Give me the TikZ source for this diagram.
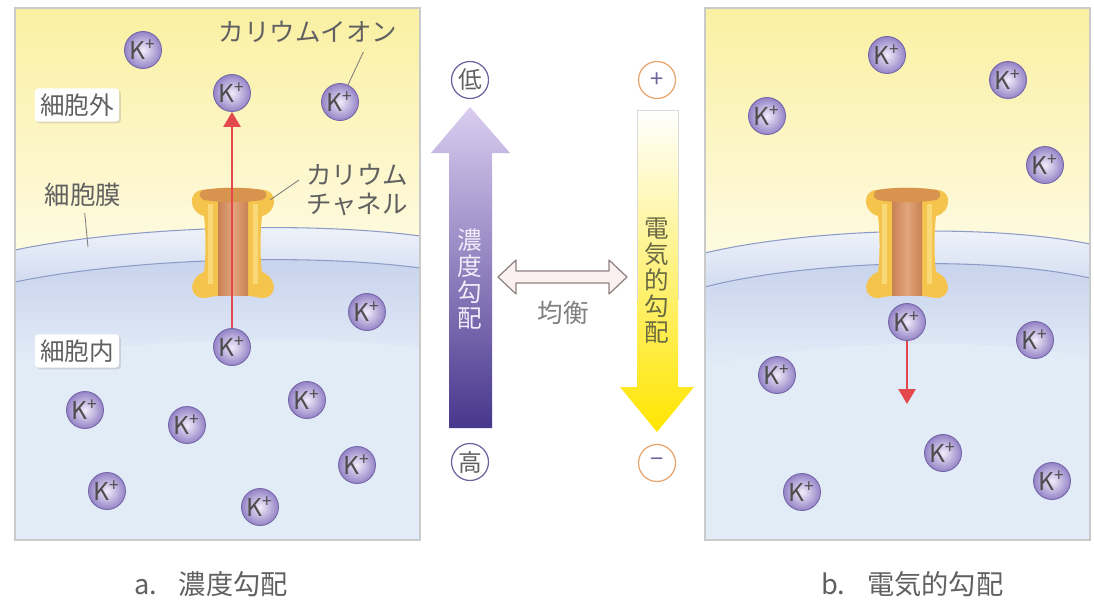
\documentclass[tikz,border=0pt]{standalone}
\usepackage{fontspec}
\setmainfont{Noto Sans CJK JP}
\usetikzlibrary{arrows.meta,shadows,calc}

\definecolor{txtgray}{HTML}{606060}
\definecolor{framegray}{HTML}{CACACA}
\definecolor{outtop}{HTML}{FAF0A2}
\definecolor{outlow}{HTML}{FEFBE6}
\definecolor{memtop}{HTML}{F2F5FB}
\definecolor{memlow}{HTML}{D2DCF1}
\definecolor{memline}{HTML}{8C9CC6}
\definecolor{inhigh}{HTML}{C6D1EC}
\definecolor{inlow}{HTML}{E2ECF7}
\definecolor{ionrim}{HTML}{7566A8}
\definecolor{ionlight}{HTML}{F1ECFA}
\definecolor{iondark}{HTML}{9483C6}
\definecolor{flowred}{HTML}{E2484C}
\definecolor{chanyellow}{HTML}{F4C44C}
\definecolor{chanlight}{HTML}{F9D977}
\definecolor{chancap}{HTML}{D8934F}
\definecolor{porebrown}{HTML}{C98253}
\definecolor{porelight}{HTML}{E3A57C}
\definecolor{concdraw}{HTML}{6E619C}
\definecolor{elecdraw}{HTML}{E8A46A}
\definecolor{conctop}{HTML}{DACDF0}
\definecolor{concmid}{HTML}{907DC7}
\definecolor{concbot}{HTML}{47378D}
\definecolor{elecyel}{HTML}{FFE500}
\definecolor{elecmid}{HTML}{FFF169}
\definecolor{balfill}{HTML}{FBF1F1}
\definecolor{baldraw}{HTML}{8E8080}

\tikzset{
  ion/.style = {circle, draw=ionrim, line width=0.5pt, inner color=ionlight,
    outer color=iondark, minimum size=0.74cm, inner sep=0pt,
    font=\fontsize{14}{14}\selectfont, text=txtgray!80!black},
  tag/.style = {circle, fill=white, line width=0.7pt, minimum size=0.74cm,
    inner sep=0pt, font=\fontsize{13.5}{13.5}\selectfont},
  place/.style = {fill=white, rounded corners=2pt, inner sep=3pt, text=txtgray,
    drop shadow={shadow xshift=1pt, shadow yshift=-1pt, opacity=0.25},
    font=\fontsize{14}{14}\selectfont},
  callout/.style = {text=txtgray, font=\fontsize{14.5}{17}\selectfont},
  leader/.style = {draw=txtgray!80, line width=0.5pt},
  kflow/.style = {draw=flowred, line width=1.5pt,
    -{Triangle[width=0.34cm,length=0.3cm]}},
  panel/.style = {draw=framegray, line width=0.6pt},
  vtext/.style = {align=center, inner sep=0pt, font=\fontsize{14}{14.8}\selectfont},
  kchannel/.pic = {
    % yellow body with rounded ears at both ends
    \fill[chanyellow] (-30,-54) .. controls (-10,-57) and (10,-57) .. (30,-54)
      .. controls (45,-54) and (45,-32) .. (29,-28)
      .. controls (27,-10) and (27,14) .. (29,28)
      .. controls (45,34) and (45,55) .. (28,54)
      .. controls (10,50) and (-10,50) .. (-28,54)
      .. controls (-45,55) and (-45,34) .. (-29,28)
      .. controls (-27,14) and (-27,-10) .. (-29,-28)
      .. controls (-45,-32) and (-45,-54) .. (-30,-54) -- cycle;
    \fill[chanlight] (-25,-40) rectangle (-20,40);
    \fill[chanlight] (20,-40) rectangle (25,40);
    % pore
    \shade[left color=porebrown, right color=porebrown, middle color=porelight]
      (-15,-50) rectangle (15,51);
    % top rim
    \fill[chancap] (-30,-54) .. controls (-10,-57) and (10,-57) .. (30,-54)
      .. controls (35,-51) and (34,-46) .. (29,-44)
      .. controls (10,-41) and (-10,-41) .. (-29,-44)
      .. controls (-34,-46) and (-35,-51) .. (-30,-54) -- cycle;
  }
}

\begin{document}
\begin{tikzpicture}[x=0.02cm, y=-0.02cm]
  \useasboundingbox (0,0) rectangle (1094,599);

  % left cell: outside, membrane, inside
  \begin{scope}
    \clip (15,8) rectangle (420,540);
    \shade[top color=outtop, bottom color=outlow] (15,8) rectangle (420,270);
    \fill[inlow] (15,282) .. controls (120,260) and (300,252) .. (420,268)
      -- (420,540) -- (15,540) -- cycle;
    \shade[top color=inhigh, bottom color=inlow]
      (15,282) .. controls (120,260) and (300,252) .. (420,268)
      -- (420,348) .. controls (300,332) and (120,340) .. (15,362) -- cycle;
    \shade[top color=memtop, bottom color=memlow]
      (15,250) .. controls (120,228) and (300,220) .. (420,236)
      -- (420,268) .. controls (300,252) and (120,260) .. (15,282) -- cycle;
    \draw[memline, line width=0.6pt]
      (15,250) .. controls (120,228) and (300,220) .. (420,236);
    \draw[memline, line width=0.6pt]
      (15,282) .. controls (120,260) and (300,252) .. (420,268);
  \end{scope}
  \draw[panel] (15,8) rectangle (420,540);

  % right cell
  \begin{scope}
    \clip (705,8) rectangle (1090,540);
    \shade[top color=outtop, bottom color=outlow] (705,8) rectangle (1090,270);
    \fill[inlow] (705,287) .. controls (800,262) and (980,254) .. (1090,278)
      -- (1090,540) -- (705,540) -- cycle;
    \shade[top color=inhigh, bottom color=inlow]
      (705,287) .. controls (800,262) and (980,254) .. (1090,278)
      -- (1090,358) .. controls (980,334) and (800,342) .. (705,367) -- cycle;
    \shade[top color=memtop, bottom color=memlow]
      (705,253) .. controls (800,230) and (980,222) .. (1090,244)
      -- (1090,278) .. controls (980,254) and (800,262) .. (705,287) -- cycle;
    \draw[memline, line width=0.6pt]
      (705,253) .. controls (800,230) and (980,222) .. (1090,244);
    \draw[memline, line width=0.6pt]
      (705,287) .. controls (800,262) and (980,254) .. (1090,278);
  \end{scope}
  \draw[panel] (705,8) rectangle (1090,540);

  \pic at (233,244) {kchannel};
  \pic at (907,244) {kchannel};

  % potassium ions
  \foreach \n/\x/\y in {a1/143/50, a2/232/93, a3/340/102, a4/367/312,
      a5/232/347, a6/85/410, a7/187/425, a8/307/400, a9/357/465,
      a10/107/491, a11/260/507,
      b1/887/55, b2/1008/80, b3/767/116, b4/1045/165, b5/907/322,
      b6/1035/340, b7/777/375, b8/943/453, b9/1052/481, b10/802/492}
    \node[ion] (\n) at (\x,\y) {K\textsuperscript{+}};

  \draw[kflow] (a5) -- (a2);
  \coordinate (sink) at (907,404);
  \draw[kflow] (b5) -- (sink);

  % labels
  \node[place] (outside) at (77,105) {細胞外};
  \node[place] (inside) at (77,351) {細胞内};
  \node[callout] (membrane) at (83,195) {細胞膜};
  \coordinate (memtip) at (88,247);
  \draw[leader] (membrane) -- (memtip);
  \node[callout] (ionname) at (308,32) {カリウムイオン};
  \draw[leader] ($(ionname.south east)+(-40,3)$) -- (a3);
  \node[callout, align=left, anchor=west] (channame) at (300,190)
    {カリウム\\チャネル};
  \coordinate (chantip) at (270,200);
  \draw[leader] ($(channame.west)+(-1,-10)$) -- (chantip);

  % concentration gradient
  \node[tag, draw=concdraw, text=txtgray] (low) at (470,80) {低};
  \node[tag, draw=concdraw, text=txtgray] (high) at (470,462) {高};
  \shade[top color=conctop, middle color=concmid, bottom color=concbot]
    (449,428) -- (449,153) -- (431,153) -- (470,107) -- (510,153)
    -- (492,153) -- (492,428) -- cycle;
  \node[vtext, text=ionlight] (conc) at (470,279) {濃\\度\\勾\\配};

  % electrical gradient
  \node[tag, draw=elecdraw, text=concdraw] (plus) at (657,80) {+};
  \node[tag, draw=elecdraw, text=concdraw] (minus) at (657,463) {−};
  \shade[top color=white, middle color=elecmid, bottom color=elecyel]
    (637,110) -- (678,110) -- (678,387) -- (694,387) -- (657,432)
    -- (620,387) -- (637,387) -- cycle;
  \draw[framegray!70, line width=0.4pt] (637,300) -- (637,110) -- (678,110) -- (678,300);
  \node[vtext, text=txtgray!70!olive] (elec) at (657,281) {電\\気\\的\\勾\\配};

  % balance
  \draw[baldraw, fill=balfill, line width=0.7pt, line join=round]
    (498,277) -- (516,260) -- (516,271) -- (609,271) -- (609,260) -- (627,277)
    -- (609,294) -- (609,283) -- (516,283) -- (516,294) -- cycle;
  \node[callout, text=txtgray!80] (balance) at (563,313) {均衡};

  % captions
  \node[callout, font=\fontsize{15.5}{16}\selectfont, anchor=west] (capa)
    at (128,584) {a.\hspace{0.8em}濃度勾配};
  \node[callout, font=\fontsize{15.5}{16}\selectfont, anchor=west] (capb)
    at (815,584) {b.\hspace{0.8em}電気的勾配};
\end{tikzpicture}
\end{document}
